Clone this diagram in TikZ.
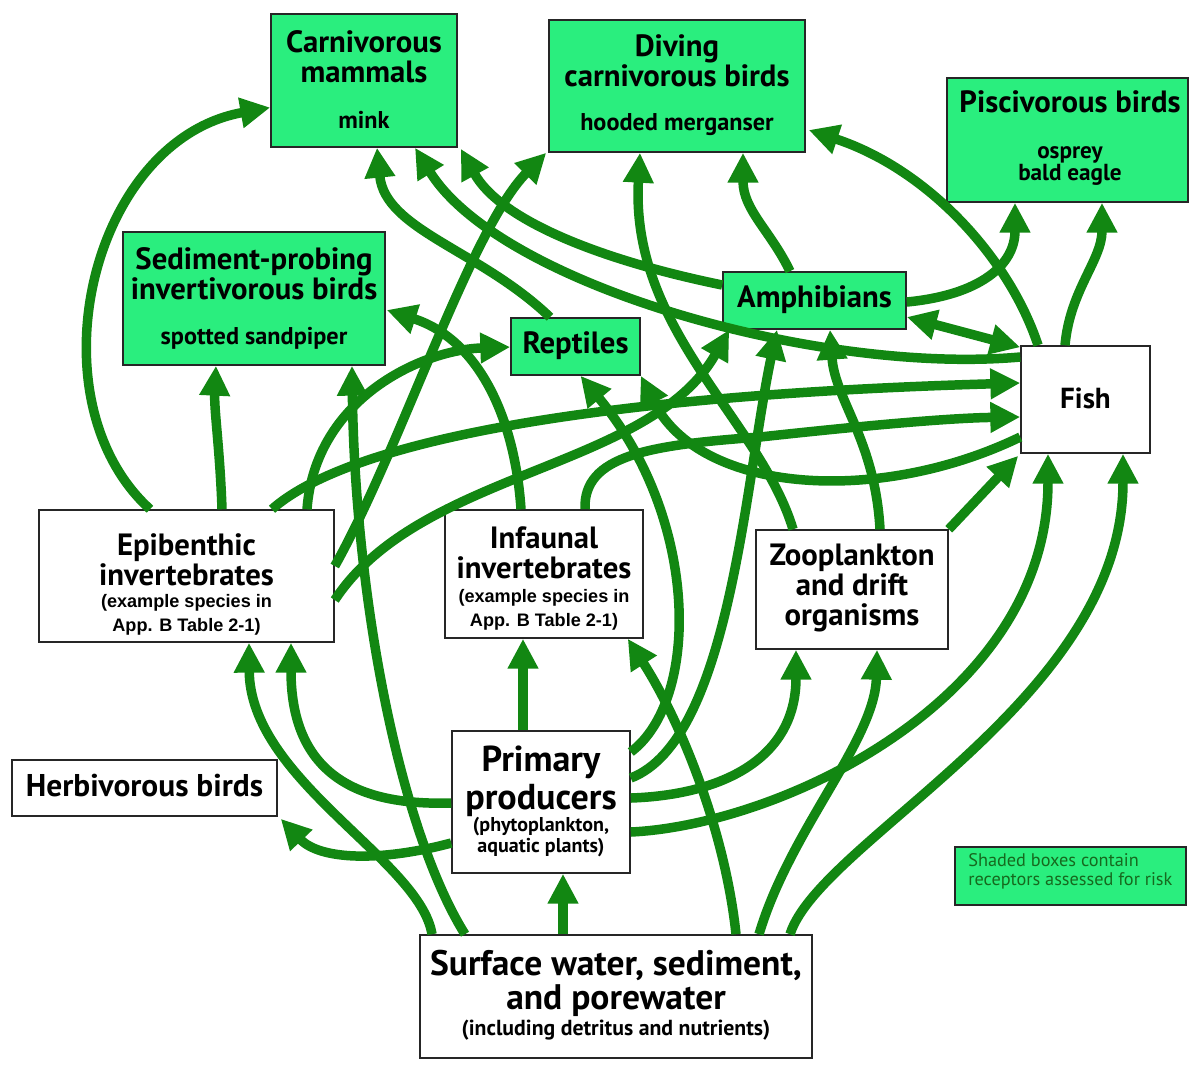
\documentclass[tikz,border=0pt]{standalone}
\usepackage{fontspec}
\setmainfont{PT Sans}
\newfontfamily\arialish{Liberation Sans}
\usetikzlibrary{arrows.meta,calc}
\definecolor{linkgreen}{RGB}{18,135,18}
\definecolor{boxgreen}{RGB}{42,238,126}
\definecolor{legendtext}{RGB}{22,105,30}
\begin{document}
\begin{tikzpicture}[x=0.02cm,y=-0.02cm,
  box/.style={draw=black!85, line width=0.9pt, fill=white, inner sep=0pt},
  receptor/.style={box, fill=boxgreen},
  lbl/.style={align=center, inner sep=0pt, text=black},
  title/.style={lbl, font=\bfseries\fontsize{17.5}{17.2}\selectfont},
  species/.style={lbl, font=\bfseries\fontsize{13.8}{14}\selectfont},
  note/.style={lbl, font=\arialish\bfseries\fontsize{10.3}{13.5}\selectfont},
  flow/.style={draw=linkgreen, line width=5.4pt, -{Triangle[length=17pt,width=16.5pt]}},
  twoway/.style={draw=linkgreen, line width=5.4pt, {Triangle[length=17pt,width=16.5pt]}-{Triangle[length=17pt,width=16.5pt]}}
]
\useasboundingbox (0,0) rectangle (1192,1066);

% ---- receptor boxes (shaded) ----
\node[receptor, minimum width=3.72cm, minimum height=2.66cm] (carn) at (364,80.5) {};
\node[receptor, minimum width=5.12cm, minimum height=2.64cm] (dive) at (677,86) {};
\node[receptor, minimum width=4.82cm, minimum height=2.48cm] (pisc) at (1067.5,140) {};
\node[receptor, minimum width=5.24cm, minimum height=2.66cm] (sedi) at (254,298.5) {};
\node[receptor, minimum width=2.58cm, minimum height=1.14cm] (rept) at (575.5,346.5) {};
\node[receptor, minimum width=3.66cm, minimum height=1.14cm] (amph) at (814.5,300.5) {};

% ---- other compartments ----
\node[box, minimum width=2.58cm, minimum height=2.14cm] (fish) at (1085.5,399.5) {};
\node[box, minimum width=5.90cm, minimum height=2.64cm] (epib) at (186.5,576) {};
\node[box, minimum width=3.96cm, minimum height=2.56cm] (infa) at (544,574) {};
\node[box, minimum width=3.84cm, minimum height=2.38cm] (zoo) at (852,589.5) {};
\node[box, minimum width=5.30cm, minimum height=1.12cm] (herb) at (144.5,788) {};
\node[box, minimum width=3.56cm, minimum height=2.84cm] (prim) at (541,802) {};
\node[box, minimum width=7.84cm, minimum height=2.46cm] (surf) at (616,996.5) {};
\node[receptor, minimum width=4.62cm, minimum height=1.16cm] (legend) at (1070.5,876) {};

% ---- box texts ----
\node[title] (carnT) at (364,57) {Carnivorous\\mammals};
\node[species] (carnS) at (364,120) {mink};
\node[title] (diveT) at (677,61) {Diving\\carnivorous birds};
\node[species] (diveS) at (677,125) {hooded merganser};
\node[title] (piscT) at (1070,102) {Piscivorous birds};
\node[lbl, font=\bfseries\fontsize{13.2}{12.8}\selectfont] (piscS) at (1070,166) {osprey\\bald eagle};
\node[title] (sediT) at (254,274) {Sediment-probing\\invertivorous birds};
\node[species] (sediS) at (254,338) {spotted sandpiper};
\node[title] (reptT) at (575.5,346) {Reptiles};
\node[title] (amphT) at (814.5,300) {Amphibians};
\node[lbl, font=\bfseries\fontsize{16.5}{18}\selectfont] (fishT) at (1085.5,398) {Fish};
\node[title] (epibT) at (186.5,560) {Epibenthic\\invertebrates};
\node[note] (epibS) at (186.5,615) {(example species in\\App. B Table 2-1)};
\node[title] (infaT) at (544,553) {Infaunal\\invertebrates};
\node[note] (infaS) at (544,610) {(example species in\\App. B Table 2-1)};
\node[title] (zooT) at (852,588) {Zooplankton\\and drift\\organisms};
\node[lbl, font=\bfseries\fontsize{17.9}{18}\selectfont] (herbT) at (144.5,786) {Herbivorous birds};
\node[lbl, font=\bfseries\fontsize{20.5}{21.5}\selectfont] (primT) at (541,781) {Primary\\producers};
\node[lbl, font=\bfseries\fontsize{11.4}{12.3}\selectfont] (primS) at (541,837) {(phytoplankton,\\aquatic plants)};
\node[lbl, font=\bfseries\fontsize{20.2}{19.5}\selectfont] (surfT) at (616,983) {Surface water, sediment,\\and porewater};
\node[lbl, font=\bfseries\fontsize{12.4}{13}\selectfont] (surfS) at (616,1030) {(including detritus and nutrients)};
\node[lbl, align=left, anchor=west, text=legendtext, font=\fontsize{10.4}{10.6}\selectfont] (legendT) at (968,871) {Shaded boxes contain\\receptors assessed for risk};

% ---- exposure pathways ----
% from surface water, sediment and porewater
\draw[flow] ($(surf.north)+(-53,0)$) -- ($(prim.south)+(22,0)$);
\draw[flow] ($(surf.north)+(-184,0)$) .. controls (420,860) and (250,780) .. ($(epib.south)+(62.5,0)$);
\draw[flow] ($(surf.north)+(-151,0)$) .. controls (400,830) and (355,600) .. ($(sedi.south)+(98,0)$);
\draw[flow] ($(surf.north)+(120,0)$) .. controls (725,830) and (680,720) .. ($(infa.south east)+(-16,0)$);
\draw[flow] ($(surf.north)+(143,0)$) .. controls (790,830) and (875,740) .. ($(zoo.south)+(25,0)$);
\draw[flow] ($(surf.north)+(174,0)$) .. controls (820,840) and (1123,700) .. ($(fish.south)+(37.5,0)$);

% from primary producers
\draw[flow] ($(prim.north)+(-18,0)$) -- ($(infa.south)+(-21,0)$);
\draw[flow] ($(prim.west)+(0,1)$) .. controls (380,805) and (291,790) .. ($(epib.south)+(104.5,0)$);
\draw[flow] ($(prim.west)+(0,41)$) .. controls (380,862) and (320,860) .. ($(herb.south east)+(3,2)$);
\draw[flow] ($(prim.east)+(0,30)$) .. controls (780,825) and (1048,700) .. ($(fish.south)+(-37.5,0)$);
\draw[flow] ($(prim.east)+(0,-4)$) .. controls (720,795) and (796,760) .. ($(zoo.south)+(-56,0)$);
\draw[flow] ($(prim.east)+(0,-24)$) .. controls (730,740) and (745,480) .. ($(amph.south)+(-37.5,0)$);
\draw[flow] ($(prim.east)+(0,-50)$) .. controls (700,700) and (700,520) .. ($(rept.south)+(5,0)$);

% from epibenthic invertebrates
\draw[flow] ($(epib.north)+(-36.5,0)$) .. controls (30,400) and (90,140) .. ($(carn.west)+(0,27)$);
\draw[flow] ($(epib.north)+(35.5,0)$) .. controls (220,450) and (214,410) .. ($(sedi.south)+(-38,0)$);
\draw[flow] ($(epib.north)+(85.5,0)$) .. controls (350,440) and (600,395) .. ($(fish.west)+(0,-16.5)$);
\draw[flow] ($(epib.north)+(120.5,0)$) .. controls (315,400) and (420,350) .. ($(rept.west)+(0,0.5)$);
\draw[flow] ($(epib.east)+(0,-10)$) .. controls (400,450) and (470,230) .. ($(dive.south west)+(-2,0)$);
\draw[flow] ($(epib.east)+(0,24)$) .. controls (420,470) and (650,470) .. ($(amph.south west)+(7,0)$);

% from infaunal invertebrates
\draw[flow] ($(infa.north)+(-23,0)$) .. controls (515,420) and (480,340) .. ($(sedi.east)+(1,11.5)$);
\draw[flow] ($(infa.north)+(41,0)$) .. controls (583,455) and (650,445) .. (760,437)
  .. controls (870,425) and (950,418) .. ($(fish.west)+(0,17.5)$);

% from zooplankton and drift organisms
\draw[flow] ($(zoo.north)+(-59,0)$) .. controls (760,420) and (630,330) .. ($(dive.south)+(-37,0)$);
\draw[flow] ($(zoo.north)+(28,0)$) .. controls (875,440) and (835,400) .. ($(amph.south)+(15.5,0)$);
\draw[flow] (zoo.north east) -- ($(fish.south west)+(-2,2)$);

% from amphibians and reptiles
\draw[flow] ($(amph.north)+(-24.5,0)$) .. controls (770,230) and (743,210) .. ($(dive.south)+(66,0)$);
\draw[flow] ($(amph.west)+(0,-15.5)$) .. controls (600,260) and (500,220) .. ($(carn.south east)+(3,1)$);
\draw[flow] ($(amph.east)+(0,1.5)$) .. controls (980,295) and (1015,265) .. ($(pisc.south)+(-52.5,0)$);
\draw[twoway] ($(amph.east)+(0,16.5)$) -- ($(fish.north west)+(0,2)$);
\draw[flow] ($(rept.north)+(-25.5,0)$) .. controls (480,250) and (385,230) .. ($(carn.south)+(13,0)$);

% from fish
\draw[flow] ($(fish.west)+(0,-42.5)$) .. controls (820,375) and (500,285) .. ($(carn.south)+(51,0)$);
\draw[flow] ($(fish.west)+(0,37.5)$) .. controls (880,505) and (700,495) .. (rept.south east);
\draw[flow] ($(fish.north)+(-47.5,0)$) .. controls (1010,260) and (930,170) .. ($(dive.east)+(3,44)$);
\draw[flow] ($(fish.north)+(-20.5,0)$) .. controls (1070,290) and (1102,260) .. ($(pisc.south)+(34.5,0)$);
\end{tikzpicture}
\end{document}
